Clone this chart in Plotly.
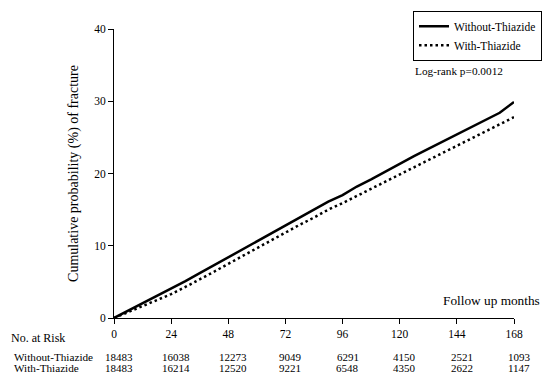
import plotly.graph_objects as go

months = [0, 6, 12, 18, 24, 30, 36, 42, 48, 54, 60, 66, 72, 78, 84, 90, 96,
          102, 108, 114, 120, 126, 132, 138, 144, 150, 156, 162, 168]
without_thiazide = [0, 1.0, 2.1, 3.1, 4.1, 5.1, 6.2, 7.3, 8.3, 9.5, 10.6, 11.7, 12.8,
                    13.9, 15.0, 16.1, 17.0, 18.2, 19.2, 20.3, 21.3, 22.4, 23.4, 24.4,
                    25.5, 26.5, 27.4, 28.4, 29.9]
with_thiazide = [0, 0.8, 1.7, 2.5, 3.3, 4.3, 5.3, 6.4, 7.5, 8.6, 9.6, 10.7, 11.8,
                 12.9, 13.9, 15.0, 15.9, 16.9, 17.9, 18.9, 19.9, 20.9, 21.9, 22.9,
                 23.9, 24.9, 25.9, 26.8, 27.8]

risk_months = [0, 24, 48, 72, 96, 120, 144, 168]
risk_without = [18483, 16038, 12273, 9049, 6291, 4150, 2521, 1093]
risk_with = [18483, 16214, 12520, 9221, 6548, 4350, 2622, 1147]

FONT = "'Liberation Serif', 'Times New Roman', serif"

fig = go.Figure()
fig.add_trace(go.Scatter(x=months, y=without_thiazide, mode="lines",
                         name="Without-Thiazide",
                         line=dict(color="black", width=2.5)))
fig.add_trace(go.Scatter(x=months, y=with_thiazide, mode="lines",
                         name="With-Thiazide",
                         line=dict(color="black", width=2.5, dash="2.5px,3px")))

ann = []
ann.append(dict(text="Log-rank p=0.0012", x=0.7475, y=0.856, xref="paper", yref="paper",
                xanchor="left", yanchor="middle", showarrow=False,
                font=dict(family=FONT, size=11.3, color="black")))
ann.append(dict(text="Follow up months", x=1.07, y=0.06, xref="paper", yref="paper",
                xanchor="right", yanchor="middle", showarrow=False,
                font=dict(family=FONT, size=13.3, color="black")))
ann.append(dict(text="No. at Risk", x=-0.2625, y=0, xref="paper", yref="paper",
                xanchor="left", yanchor="middle", yshift=-20, showarrow=False,
                font=dict(family=FONT, size=12, color="black")))
ann.append(dict(text="Without-Thiazide", x=-0.256, y=0, xref="paper", yref="paper",
                xanchor="left", yanchor="middle", yshift=-38.7, showarrow=False,
                font=dict(family=FONT, size=11.2, color="black")))
ann.append(dict(text="With-Thiazide", x=-0.256, y=0, xref="paper", yref="paper",
                xanchor="left", yanchor="middle", yshift=-50.3, showarrow=False,
                font=dict(family=FONT, size=11.2, color="black")))
for m, a, b in zip(risk_months, risk_without, risk_with):
    ann.append(dict(text=str(a), x=m, y=0, xref="x", yref="paper", xanchor="center",
                    yanchor="middle", xshift=5, yshift=-38.7, showarrow=False,
                    font=dict(family=FONT, size=11, color="black")))
    ann.append(dict(text=str(b), x=m, y=0, xref="x", yref="paper", xanchor="center",
                    yanchor="middle", xshift=5, yshift=-50.3, showarrow=False,
                    font=dict(family=FONT, size=11, color="black")))

fig.update_layout(
    width=550, height=377,
    margin=dict(l=114, r=36, t=29, b=59, autoexpand=False),
    paper_bgcolor="white", plot_bgcolor="white",
    font=dict(family=FONT, size=11, color="black"),
    showlegend=True,
    legend=dict(x=0.7475, y=1.063, xanchor="left", yanchor="top",
                bordercolor="black", borderwidth=1, bgcolor="white",
                font=dict(family=FONT, size=11.5, color="black"),
                itemwidth=30, tracegroupgap=0),
    xaxis=dict(range=[0, 168], tickvals=risk_months, showgrid=False, zeroline=False,
               showline=True, linecolor="black", linewidth=1,
               ticks="outside", ticklen=5, tickcolor="black",
               tickfont=dict(family=FONT, size=11.5)),
    yaxis=dict(range=[0, 40], tickvals=[0, 10, 20, 30, 40], showgrid=False, zeroline=False,
               showline=True, linecolor="black", linewidth=1,
               ticks="outside", ticklen=5, tickcolor="black",
               tickfont=dict(family=FONT, size=11.5),
               title=dict(text="Cumulative probability (%) of fracture",
                          font=dict(family=FONT, size=14), standoff=12)),
    annotations=ann,
)

fig.write_html("out.html", config={"displayModeBar": False},
               post_script="document.body.style.margin='0px';document.body.style.overflow='hidden';")
